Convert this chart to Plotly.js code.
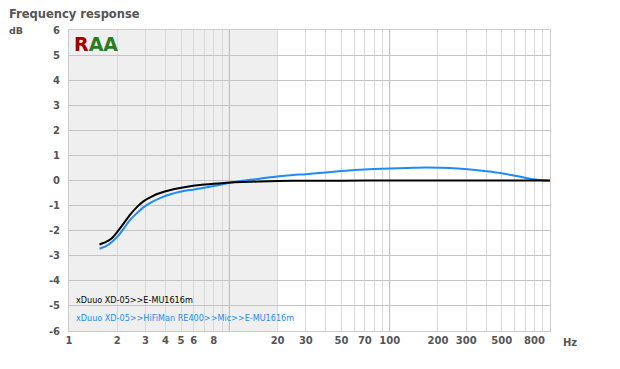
<!DOCTYPE html>
<html><head><meta charset="utf-8">
<script src="https://cdn.plot.ly/plotly-3.0.1.min.js"></script>
<style>body{margin:0;background:#fff}#c{width:620px;height:369px}</style>
</head><body><div id="c"></div>
<script>
// Series 1: xDuuo XD-05>>E-MU1616m (black)
const freqBlack = [1.55, 1.7, 1.85, 2.0, 2.2, 2.4, 2.65, 2.91, 3.3, 3.7, 4.3, 4.93, 5.7, 6.56, 8, 9.6, 12, 15.5, 20, 30, 50, 100, 200, 500, 1000];
const dbBlack   = [-2.55, -2.45, -2.3, -2.05, -1.7, -1.37, -1.06, -0.83, -0.63, -0.5, -0.38, -0.3, -0.23, -0.18, -0.13, -0.09, -0.06, -0.04, -0.02, -0.01, -0.01, 0.0, 0.0, 0.0, 0.0];
// Series 2: xDuuo XD-05>>HiFiMan RE400>>Mic>>E-MU1616m (blue)
const freqBlue = [1.55, 1.7, 1.85, 2.03, 2.2, 2.4, 2.65, 2.91, 3.3, 3.7, 4.3, 4.93, 5.7, 6.56, 8, 9.6, 10.5, 12.5, 15.5, 19.8, 25, 30, 40, 50, 60, 80, 100, 130, 166, 210, 264, 330, 403, 500, 592, 700, 789, 900, 1000];
const dbBlue   = [-2.72, -2.62, -2.45, -2.2, -1.9, -1.58, -1.3, -1.07, -0.85, -0.7, -0.55, -0.45, -0.38, -0.32, -0.22, -0.12, -0.07, 0.0, 0.07, 0.16, 0.22, 0.25, 0.32, 0.38, 0.42, 0.46, 0.48, 0.5, 0.52, 0.51, 0.48, 0.43, 0.37, 0.29, 0.2, 0.11, 0.05, 0.01, -0.01];
const seriesNames = ["xDuuo XD-05>>E-MU1616m", "xDuuo XD-05>>HiFiMan RE400>>Mic>>E-MU1616m"];
const xTickVals = [1, 2, 3, 4, 5, 6, 8, 20, 30, 50, 70, 100, 200, 300, 500, 800];
const xTickText = ["1", "2", "3", "4", "5", "6", "8", "20", "30", "50", "70", "100", "200", "300", "500", "800"];
const xGridVals = [2,3,4,5,6,7,8,9,20,30,40,50,60,70,80,90,200,300,400,500,600,700,800,900];
const yTickVals = [-6,-5,-4,-3,-2,-1,0,1,2,3,4,5,6];

const blue = '#1e8cf5';
const lbl = {family: 'DejaVu Sans', size: 10, color: '#555', weight: 'bold'};

const traces = [
  {x: freqBlue, y: dbBlue, type: 'scatter', mode: 'lines', line: {color: blue, width: 2, shape: 'spline', smoothing: 0.6}, name: seriesNames[1]},
  {x: freqBlack, y: dbBlack, type: 'scatter', mode: 'lines', line: {color: '#000', width: 2, shape: 'spline', smoothing: 0.6}, name: seriesNames[0]}
];

const layout = {
  width: 620, height: 369,
  margin: {l: 69, r: 70, t: 30, b: 38},
  paper_bgcolor: '#fff', plot_bgcolor: '#fff',
  showlegend: false,
  font: {family: 'DejaVu Sans'},
  xaxis: {
    type: 'log', range: [0, 3], tickmode: 'array', tickvals: xTickVals, ticktext: xTickText,
    showgrid: false, zeroline: false, ticks: '', tickfont: lbl,
    showline: true, linecolor: '#ccc', mirror: true, linewidth: 1,
    minor: {tickmode: 'array', tickvals: xGridVals, showgrid: true, gridcolor: '#d9d9d9', gridwidth: 1, ticks: ''}
  },
  yaxis: {
    range: [-6, 6], tickmode: 'array', tickvals: yTickVals, ticktext: yTickVals.map(String),
    showgrid: true, gridcolor: '#c4c4c4', gridwidth: 1, zeroline: false, ticks: '', tickfont: lbl,
    showline: true, linecolor: '#ccc', mirror: true, ticklabelstandoff: 6
  },
  shapes: [
    {type: 'rect', xref: 'x', yref: 'paper', x0: 1, x1: 20, y0: 0, y1: 1, fillcolor: '#efefef', line: {width: 0}, layer: 'below'},
    {type: 'line', xref: 'x', yref: 'paper', x0: 10, x1: 10, y0: 0, y1: 1, line: {color: '#b8b8b8', width: 1}, layer: 'below'},
    {type: 'line', xref: 'x', yref: 'paper', x0: 100, x1: 100, y0: 0, y1: 1, line: {color: '#b8b8b8', width: 1}, layer: 'below'}
  ],
  annotations: [
    {text: 'Frequency response', xref: 'paper', yref: 'paper', x: -62/481, y: 1 + 16/301, xanchor: 'left', yanchor: 'middle', showarrow: false,
     font: {family: 'DejaVu Sans', size: 11.5, color: '#555', weight: 'bold'}},
    {text: 'dB', xref: 'paper', yref: 'paper', x: -62/481, y: 1, xanchor: 'left', yanchor: 'middle', showarrow: false,
     font: {family: 'DejaVu Sans', size: 9.5, color: '#555', weight: 'bold'}},
    {text: 'Hz', xref: 'paper', yref: 'paper', x: 1 + 20/481, y: -4/301, xanchor: 'center', yanchor: 'top', showarrow: false, font: lbl},
    {text: seriesNames[0], xref: 'paper', yref: 'paper', x: 5/481, y: 31/301, xanchor: 'left', yanchor: 'middle', showarrow: false,
     font: {family: 'DejaVu Sans', size: 8.1, color: '#000'}},
    {text: seriesNames[1], xref: 'paper', yref: 'paper', x: 5/481, y: 13/301, xanchor: 'left', yanchor: 'middle', showarrow: false,
     font: {family: 'DejaVu Sans', size: 8.1, color: blue}},
    {text: '<span style="color:#a00000">R</span><span style="color:#2a7d1e">AA</span>', xref: 'paper', yref: 'paper', x: 3/481, y: 1 - 14/301, xanchor: 'left', yanchor: 'middle', showarrow: false,
     font: {family: 'DejaVu Sans', size: 19, weight: 'bold'}}
  ]
};

Plotly.newPlot('c', traces, layout, {displayModeBar: false, staticPlot: true});
</script></body></html>
